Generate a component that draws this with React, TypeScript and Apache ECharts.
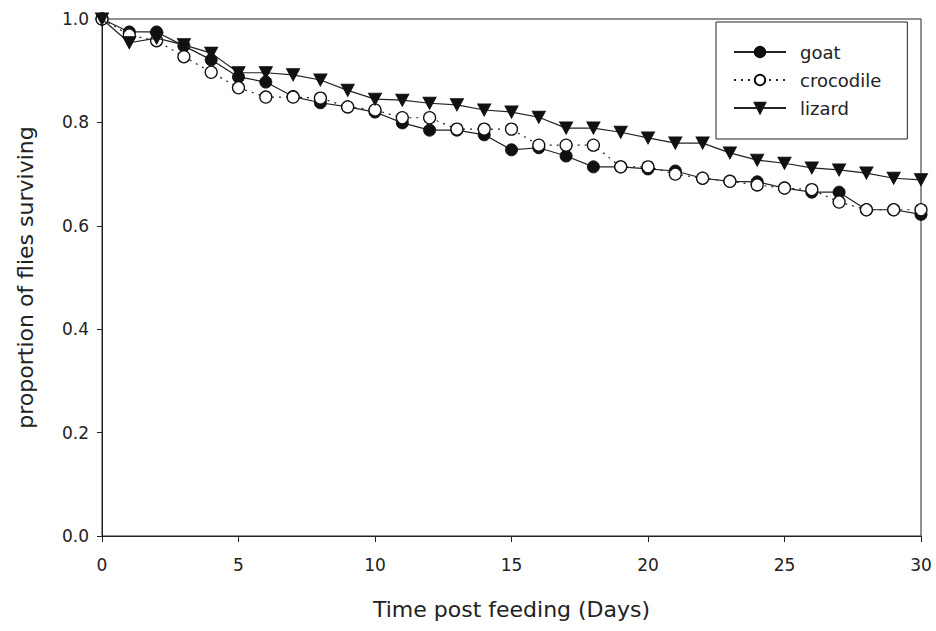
import React, { useEffect, useRef } from "react";
import * as echarts from "echarts";

const days = [0,1,2,3,4,5,6,7,8,9,10,11,12,13,14,15,16,17,18,19,20,21,22,23,24,25,26,27,28,29,30];
const goat = [1.0,0.975,0.975,0.948,0.921,0.888,0.878,0.85,0.838,0.83,0.82,0.799,0.785,0.785,0.776,0.747,0.751,0.735,0.714,0.714,0.71,0.706,0.692,0.686,0.685,0.673,0.665,0.665,0.631,0.631,0.622];
const crocodile = [1.0,0.969,0.958,0.927,0.897,0.867,0.849,0.849,0.847,0.830,0.824,0.809,0.809,0.787,0.787,0.787,0.756,0.756,0.756,0.714,0.714,0.700,0.692,0.686,0.679,0.673,0.670,0.646,0.631,0.631,0.631];
const lizard = [1.0,0.954,0.963,0.950,0.934,0.896,0.896,0.892,0.882,0.862,0.845,0.843,0.837,0.834,0.824,0.820,0.810,0.789,0.789,0.781,0.770,0.760,0.760,0.741,0.727,0.721,0.712,0.708,0.702,0.692,0.689];
const yTicks = [0, 0.2, 0.4, 0.6, 0.8, 1.0];
const xTicks = [0, 5, 10, 15, 20, 25, 30];

const FONT = "DejaVu Sans, Verdana, sans-serif";
const INK = "#222";

export default function App() {
  const ref = useRef<HTMLDivElement>(null);
  useEffect(() => {
    if (!ref.current) return;
    const chart = echarts.init(ref.current, undefined, { renderer: "svg" });
    const pts = (arr: number[]) => days.map((d, i) => [d, arr[i]]);
    chart.setOption({
      animation: false,
      backgroundColor: "#fff",
      textStyle: { fontFamily: FONT, color: INK },
      grid: { left: 102, top: 19, width: 819, height: 517, show: true, borderColor: INK, borderWidth: 1, backgroundColor: "transparent" },
      legend: {
        orient: "vertical",
        left: 716,
        top: 22,
        padding: [21, 26, 22, 17],
        borderColor: INK,
        borderWidth: 1,
        itemWidth: 52,
        itemHeight: 13,
        itemGap: 10,
        textStyle: { fontFamily: FONT, fontSize: 18, color: INK, padding: [0, 0, 0, 9] },
        data: ["goat", "crocodile", "lizard"],
      },
      xAxis: {
        type: "value",
        min: 0,
        max: 30,
        interval: 5,
        name: "Time post feeding (Days)",
        nameLocation: "middle",
        nameGap: 62,
        nameTextStyle: { fontFamily: FONT, fontSize: 22, color: INK },
        axisLine: { show: true, lineStyle: { color: INK, width: 1 } },
        axisTick: { show: true, length: 6, lineStyle: { color: INK } },
        axisLabel: { fontFamily: FONT, fontSize: 17, color: INK, margin: 20, formatter: (v: number) => (xTicks.includes(v) ? String(v) : "") },
        splitLine: { show: false },
      },
      yAxis: {
        type: "value",
        min: 0,
        max: 1,
        interval: 0.2,
        name: "proportion of flies surviving",
        nameLocation: "middle",
        nameGap: 66,
        nameTextStyle: { fontFamily: FONT, fontSize: 22, color: INK },
        axisLine: { show: true, lineStyle: { color: INK, width: 1 } },
        axisTick: { show: true, length: 5, lineStyle: { color: INK } },
        axisLabel: { fontFamily: FONT, fontSize: 17, color: INK, margin: 13, formatter: (v: number) => (yTicks.some((t) => Math.abs(t - v) < 1e-9) ? v.toFixed(1) : "") },
        splitLine: { show: false },
      },
      series: [
        {
          name: "goat",
          type: "line",
          data: pts(goat),
          symbol: "circle",
          symbolSize: 12,
          itemStyle: { color: "#111", borderColor: "#111", borderWidth: 1 },
          lineStyle: { color: INK, width: 1.2, type: "solid" },
          z: 2,
        },
        {
          name: "crocodile",
          type: "line",
          data: pts(crocodile),
          symbol: "circle",
          symbolSize: 12,
          itemStyle: { color: "#fff", borderColor: "#111", borderWidth: 1.3 },
          lineStyle: { color: INK, width: 1.2, type: [2, 5] },
          z: 3,
        },
        {
          name: "lizard",
          type: "line",
          data: pts(lizard),
          symbol: "triangle",
          symbolRotate: 180,
          symbolSize: [13, 12],
          itemStyle: { color: "#111", borderColor: "#111", borderWidth: 1 },
          lineStyle: { color: INK, width: 1.2, type: "solid" },
          z: 4,
        },
      ],
    });
    return () => chart.dispose();
  }, []);
  return <div ref={ref} style={{ position: "fixed", left: 0, top: 0, width: 936, height: 631 }} />;
}
